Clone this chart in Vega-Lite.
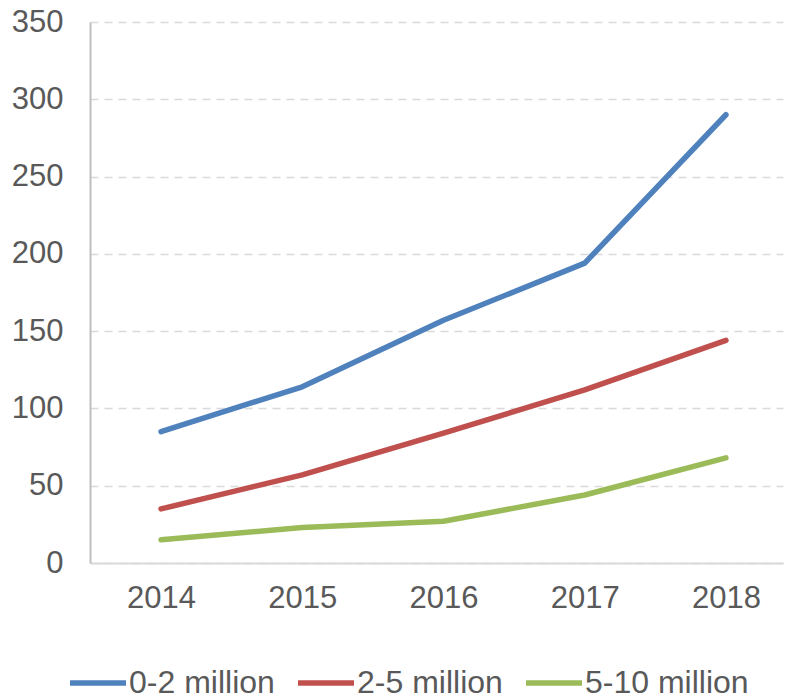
{
  "$schema": "https://vega.github.io/schema/vega-lite/v6.json",
  "autosize": "none",
  "width": 693,
  "height": 541,
  "padding": {"left": 90, "top": 22, "right": 9, "bottom": 137},
  "background": "white",
  "data": {
    "values": [
      {"year": 2014, "series": "0-2 million", "value": 85},
      {"year": 2015, "series": "0-2 million", "value": 114},
      {"year": 2016, "series": "0-2 million", "value": 157},
      {"year": 2017, "series": "0-2 million", "value": 194},
      {"year": 2018, "series": "0-2 million", "value": 290},
      {"year": 2014, "series": "2-5 million", "value": 35},
      {"year": 2015, "series": "2-5 million", "value": 57},
      {"year": 2016, "series": "2-5 million", "value": 84},
      {"year": 2017, "series": "2-5 million", "value": 112},
      {"year": 2018, "series": "2-5 million", "value": 144},
      {"year": 2014, "series": "5-10 million", "value": 15},
      {"year": 2015, "series": "5-10 million", "value": 23},
      {"year": 2016, "series": "5-10 million", "value": 27},
      {"year": 2017, "series": "5-10 million", "value": 44},
      {"year": 2018, "series": "5-10 million", "value": 68}
    ]
  },
  "mark": {"type": "line", "strokeWidth": 5.5, "strokeCap": "round", "strokeJoin": "round"},
  "encoding": {
    "x": {
      "field": "year",
      "type": "quantitative",
      "scale": {"domain": [2013.497, 2018.404], "nice": false, "zero": false},
      "axis": {
        "title": null,
        "values": [2014, 2015, 2016, 2017, 2018],
        "format": "d",
        "grid": false,
        "ticks": false,
        "domainColor": "#D9D9D9",
        "domainWidth": 2,
        "labelFont": "Liberation Sans",
        "labelFontSize": 31,
        "labelColor": "#595959",
        "labelPadding": 20,
        "labelFlush": false,
        "labelOverlap": false
      }
    },
    "y": {
      "field": "value",
      "type": "quantitative",
      "scale": {"domain": [0, 350], "nice": false},
      "axis": {
        "title": null,
        "values": [0, 50, 100, 150, 200, 250, 300, 350],
        "grid": true,
        "gridColor": "#D9D9D9",
        "gridDash": [8, 6],
        "gridWidth": 1.5,
        "ticks": false,
        "domainColor": "#BFBFBF",
        "domainWidth": 2,
        "labelFont": "Liberation Sans",
        "labelFontSize": 31,
        "labelColor": "#595959",
        "labelPadding": 27,
        "labelFlush": false,
        "labelOverlap": false
      }
    },
    "color": {
      "field": "series",
      "type": "nominal",
      "scale": {
        "domain": ["0-2 million", "2-5 million", "5-10 million"],
        "range": ["#4F81BD", "#C0504D", "#9BBB59"]
      },
      "legend": {
        "title": null,
        "orient": "none",
        "direction": "horizontal",
        "legendX": -23,
        "legendY": 630,
        "symbolType": "stroke",
        "symbolSize": 3136,
        "symbolStrokeWidth": 5.5,
        "labelFont": "Liberation Sans",
        "labelFontSize": 32,
        "labelColor": "#595959",
        "labelOffset": 0,
        "columnPadding": 12,
        "labelLimit": 400
      }
    }
  },
  "config": {"view": {"stroke": null}}
}
